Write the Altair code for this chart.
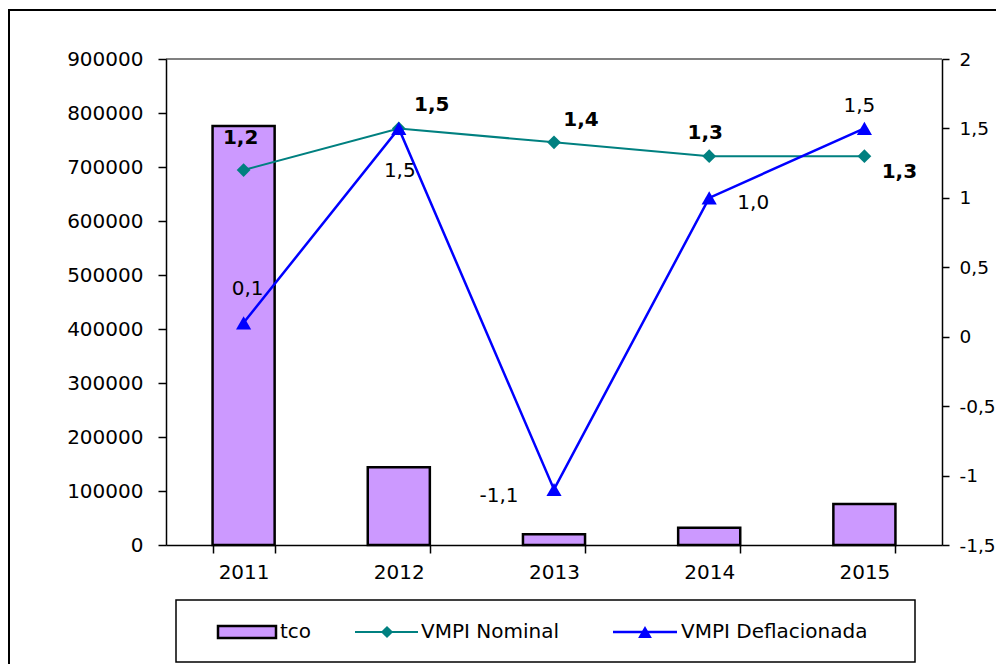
import altair as alt
import pandas as pd

years = ["2011", "2012", "2013", "2014", "2015"]
tco = [776000, 144000, 20000, 32000, 76000]
vmpi_nominal = [1.2, 1.5, 1.4, 1.3, 1.3]
vmpi_defl = [0.1, 1.5, -1.1, 1.0, 1.5]
left_ticks = [0, 100000, 200000, 300000, 400000, 500000, 600000, 700000, 800000, 900000]
right_ticks = [-1.5, -1, -0.5, 0, 0.5, 1, 1.5, 2]
series_names = ["tco", "VMPI Nominal", "VMPI Deflacionada"]

# label offsets (style)
nom_off = [(-3, -32), (33, -23), (27, -22), (-4, -23), (35, 16)]
defl_off = [(4, -34), (1, 43), (-55, 7), (44, 5), (-5, -22)]

FONT = "DejaVu Sans"
FS = 20
W, H = 776, 486
BAR = "#CC99FF"
TEAL = "#008080"
BLUE = "#0000FF"
MINUS = "\u2212"

bar_df = pd.DataFrame({"year": years, "tco": tco})
nom_df = pd.DataFrame({"year": years, "v": vmpi_nominal})
defl_df = pd.DataFrame({"year": years, "v": vmpi_defl})

xscale = alt.Scale(domain=years, paddingInner=0.6, paddingOuter=0.3)
xenc = alt.X("year:N", scale=xscale, sort=years, title=None,
             axis=alt.Axis(labelAngle=0, tickBand="extent", tickSize=8, labelPadding=9, zindex=1,
                           domainColor="black", domainWidth=1.5, tickColor="black", tickWidth=1.5,
                           labelFont=FONT, labelFontSize=FS, labelColor="black", grid=False))

bars = alt.Chart(bar_df).mark_bar(fill=BAR, stroke="black", strokeWidth=2.5).encode(
    x=xenc,
    y=alt.Y("tco:Q", scale=alt.Scale(domain=[0, 900000], nice=False), title=None,
            axis=alt.Axis(values=left_ticks, format="d", tickSize=8, labelPadding=15, zindex=1,
                          domainColor="black", domainWidth=1.5, tickColor="black", tickWidth=1.5,
                          labelFont=FONT, labelFontSize=FS, labelColor="black", grid=False)),
)

yr = alt.Y("v:Q", scale=alt.Scale(domain=[-1.5, 2], nice=False), title=None,
           axis=alt.Axis(orient="right", values=right_ticks, tickSize=7, labelPadding=10, zindex=1,
                         labelExpr=f"replace(replace(format(datum.value, '~g'), '.', ','), '{MINUS}', '-')",
                         domainColor="black", domainWidth=1.5, tickColor="black", tickWidth=1.5,
                         labelFont=FONT, labelFontSize=18.5, labelColor="black", grid=False))
xl = alt.X("year:N", scale=xscale, sort=years)

nom_line = alt.Chart(nom_df).mark_line(color=TEAL, strokeWidth=2).encode(x=xl, y=yr)
nom_pts = alt.Chart(nom_df).mark_point(shape="diamond", filled=True, color=TEAL, size=190, opacity=1).encode(x=xl, y=yr)
defl_line = alt.Chart(defl_df).mark_line(color=BLUE, strokeWidth=2.5).encode(x=xl, y=yr)
defl_pts = alt.Chart(defl_df).mark_point(shape="triangle-up", filled=True, color=BLUE, size=230, opacity=1).encode(x=xl, y=yr)

labels = []
for df, offs, bold in [(nom_df, nom_off, True), (defl_df, defl_off, False)]:
    for yv, (dx, dy) in zip(years, offs):
        labels.append(
            alt.Chart(df).transform_filter(alt.datum.year == yv)
            .transform_calculate(lab=f"replace(replace(format(datum.v, '.1f'), '.', ','), '{MINUS}', '-')")
            .mark_text(font=FONT, fontSize=FS, fontWeight="bold" if bold else "normal",
                       color="black", dx=dx, dy=dy, align="center", baseline="middle")
            .encode(x=xl, y=yr, text="lab:N")
        )

lines_layer = alt.layer(nom_line, defl_line, nom_pts, defl_pts, *labels)

one = alt.Data(values=[{"a": 1}])
frame = alt.Chart(one).mark_rect(fillOpacity=0, stroke="black", strokeWidth=2).encode(
    x=alt.value(-157), x2=alt.value(900), y=alt.value(-49), y2=alt.value(700))
toprule = alt.Chart(one).mark_rule(color="#808080", strokeWidth=2).encode(
    x=alt.value(0), x2=alt.value(W), y=alt.value(0))

# legend
LY = 573
leg_box = alt.Chart(one).mark_rect(fill="white", stroke="black", strokeWidth=1.5).encode(
    x=alt.value(10), x2=alt.value(749), y=alt.value(541), y2=alt.value(603))
leg_bar = alt.Chart(one).mark_rect(fill=BAR, stroke="black", strokeWidth=2.5).encode(
    x=alt.value(52), x2=alt.value(110), y=alt.value(LY - 6), y2=alt.value(LY + 6))
leg_l1 = alt.Chart(one).mark_rule(color=TEAL, strokeWidth=2).encode(
    x=alt.value(189), x2=alt.value(252), y=alt.value(LY))
leg_p1 = alt.Chart(one).mark_point(shape="diamond", filled=True, color=TEAL, size=150, opacity=1).encode(
    x=alt.value(221), y=alt.value(LY))
leg_l2 = alt.Chart(one).mark_rule(color=BLUE, strokeWidth=2.5).encode(
    x=alt.value(447), x2=alt.value(511), y=alt.value(LY))
leg_p2 = alt.Chart(one).mark_point(shape="triangle-up", filled=True, color=BLUE, size=190, opacity=1).encode(
    x=alt.value(479), y=alt.value(LY))
leg_texts = []
for name, xx in zip(series_names, [114, 255, 515]):
    leg_texts.append(alt.Chart(one).mark_text(font=FONT, fontSize=20, color="black", align="left",
                                              baseline="middle", text=name).encode(
        x=alt.value(xx), y=alt.value(LY)))

chart = alt.layer(
    frame, toprule, bars, lines_layer,
    leg_box, leg_bar, leg_l1, leg_p1, leg_l2, leg_p2, *leg_texts
).resolve_scale(y="independent").properties(
    width=W, height=H,
    autosize=alt.AutoSizeParams(type="none"),
    padding={"left": 158, "top": 51, "right": 54, "bottom": 119},
).configure_view(stroke=None).configure(background="white")

chart.save("out.html", embed_options={"renderer": "svg", "actions": False})
